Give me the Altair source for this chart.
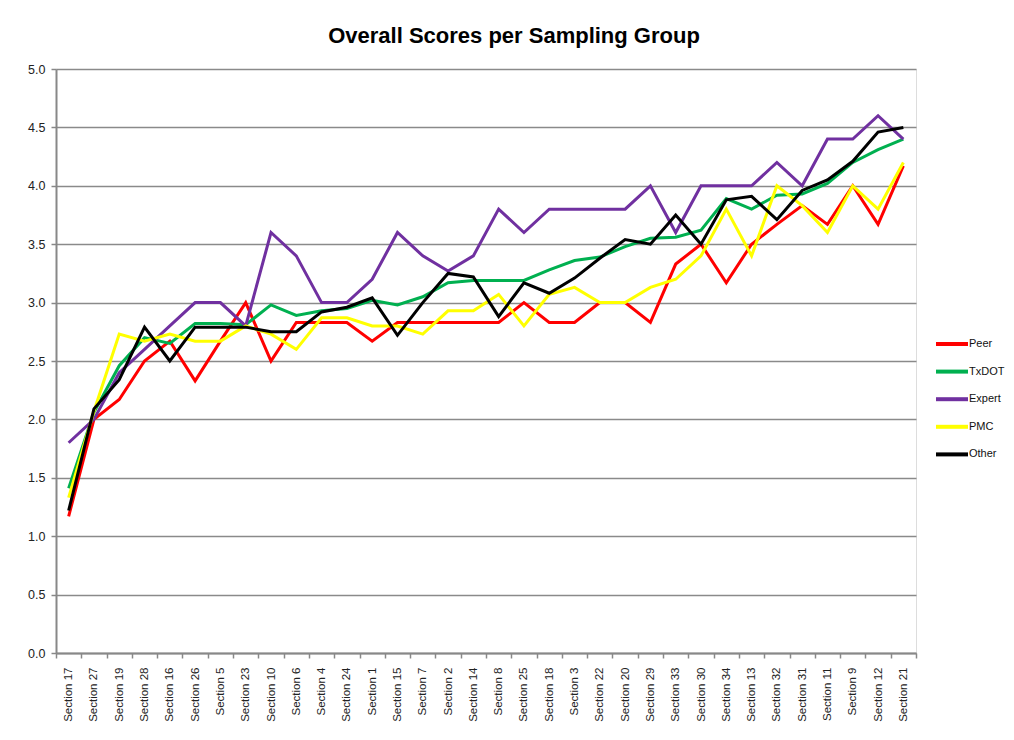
import altair as alt
import pandas as pd

sections = ["Section 17", "Section 27", "Section 19", "Section 28", "Section 16",
            "Section 26", "Section 5", "Section 23", "Section 10", "Section 6",
            "Section 4", "Section 24", "Section 1", "Section 15", "Section 7",
            "Section 2", "Section 14", "Section 8", "Section 25", "Section 18",
            "Section 3", "Section 22", "Section 20", "Section 29", "Section 33",
            "Section 30", "Section 34", "Section 13", "Section 32", "Section 31",
            "Section 11", "Section 9", "Section 12", "Section 21"]

peer = [1.17, 2.00, 2.17, 2.50, 2.67, 2.33, 2.67, 3.00, 2.50, 2.83,
        2.83, 2.83, 2.67, 2.83, 2.83, 2.83, 2.83, 2.83, 3.00, 2.83,
        2.83, 3.00, 3.00, 2.83, 3.33, 3.50, 3.17, 3.50, 3.67, 3.83,
        3.67, 4.00, 3.67, 4.17]
txdot = [1.41, 2.06, 2.46, 2.70, 2.65, 2.82, 2.82, 2.81, 2.98, 2.89,
         2.93, 2.95, 3.02, 2.98, 3.05, 3.17, 3.19, 3.19, 3.19, 3.28,
         3.36, 3.39, 3.48, 3.55, 3.56, 3.62, 3.89, 3.80, 3.92, 3.93,
         4.02, 4.20, 4.31, 4.40]
expert = [1.80, 2.00, 2.40, 2.60, 2.80, 3.00, 3.00, 2.80, 3.60, 3.40,
          3.00, 3.00, 3.20, 3.60, 3.40, 3.27, 3.40, 3.80, 3.60, 3.80,
          3.80, 3.80, 3.80, 4.00, 3.60, 4.00, 4.00, 4.00, 4.20, 4.00,
          4.40, 4.40, 4.60, 4.40]
pmc = [1.33, 2.07, 2.73, 2.67, 2.73, 2.67, 2.67, 2.80, 2.73, 2.60,
       2.87, 2.87, 2.80, 2.80, 2.73, 2.93, 2.93, 3.07, 2.80, 3.07,
       3.13, 3.00, 3.00, 3.13, 3.20, 3.40, 3.80, 3.40, 4.00, 3.83,
       3.60, 4.00, 3.80, 4.20]
other = [1.22, 2.09, 2.34, 2.79, 2.50, 2.79, 2.79, 2.79, 2.75, 2.75,
         2.92, 2.96, 3.04, 2.72, 3.00, 3.25, 3.22, 2.88, 3.17, 3.08,
         3.21, 3.38, 3.54, 3.50, 3.75, 3.50, 3.88, 3.91, 3.71, 3.96,
         4.05, 4.21, 4.46, 4.50]

groups = ["Peer", "TxDOT", "Expert", "PMC", "Other"]
colors = ["#FF0000", "#00B050", "#7030A0", "#FFFF00", "#000000"]
y_ticks = [0.0, 0.5, 1.0, 1.5, 2.0, 2.5, 3.0, 3.5, 4.0, 4.5, 5.0]

rows = []
for g, vals in zip(groups, [peer, txdot, expert, pmc, other]):
    for s, v in zip(sections, vals):
        rows.append({"Section": s, "Group": g, "Score": v})
df = pd.DataFrame(rows)

chart = alt.Chart(df).mark_line(strokeWidth=3).encode(
    x=alt.X("Section:N", sort=sections,
            scale=alt.Scale(type="band", paddingInner=0, paddingOuter=0),
            axis=alt.Axis(title=None, labelAngle=-90, tickBand="extent",
                          labelFont="Liberation Sans", labelFontSize=11.5,
                          labelColor="#222222", labelPadding=9,
                          tickSize=5, tickColor="#888888", tickWidth=1.5,
                          domainColor="#888888", domainWidth=2, grid=False)),
    y=alt.Y("Score:Q",
            scale=alt.Scale(domain=[0, 5], nice=False, zero=True),
            axis=alt.Axis(title=None, values=y_ticks, format=".1f",
                          labelFont="Liberation Sans", labelFontSize=12.5,
                          labelColor="#222222", labelPadding=6,
                          tickSize=5, tickColor="#888888", tickWidth=1.5,
                          domainColor="#888888", domainWidth=2,
                          grid=True, gridColor="#8a8a8a", gridWidth=1.5)),
    color=alt.Color("Group:N", sort=groups,
                    scale=alt.Scale(domain=groups, range=colors),
                    legend=alt.Legend(title=None, orient="none",
                                      legendX=886, legendY=265,
                                      symbolType="M-2,0H2", symbolSize=256,
                                      symbolStrokeWidth=4, labelOffset=7,
                                      labelFont="Liberation Sans",
                                      labelFontSize=11, labelColor="#111111",
                                      rowPadding=9.6, padding=0)),
).properties(
    width=860,
    height=584,
    title=alt.TitleParams("Overall Scores per Sampling Group",
                          font="Liberation Sans", fontSize=22,
                          fontWeight="bold", color="#000000",
                          anchor="middle", dx=28, offset=15),
    autosize="none",
    padding={"left": 48, "top": 61, "right": 90, "bottom": 72},
).configure_view(stroke=None).configure(background="white")

chart.save("out.html", embed_options={"renderer": "svg", "actions": False})
